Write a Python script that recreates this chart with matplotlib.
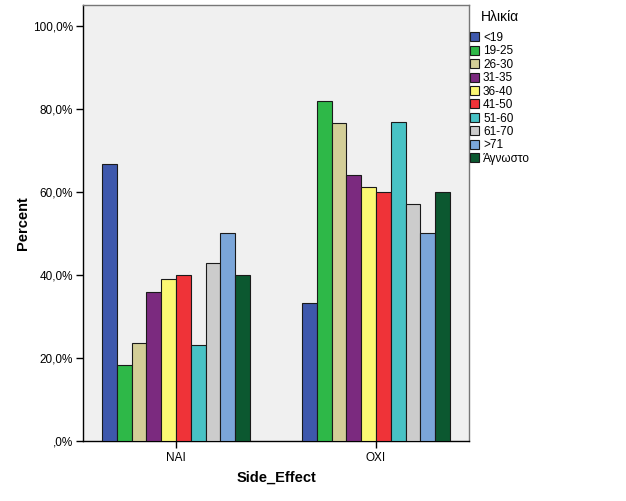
import matplotlib
matplotlib.use("Agg")
import matplotlib.pyplot as plt
import numpy as np
from matplotlib.ticker import FuncFormatter

plt.rcParams['font.family'] = ['Liberation Sans', 'DejaVu Sans']

categories = ["NAI", "OXI"]
age_groups = ["<19", "19-25", "26-30", "31-35", "36-40", "41-50", "51-60", "61-70", ">71", "Άγνωστο"]
nai_values = [66.7, 18.2, 23.5, 36.0, 38.9, 40.0, 23.1, 42.9, 50.0, 40.0]
oxi_values = [33.3, 81.8, 76.5, 64.0, 61.1, 60.0, 76.9, 57.1, 50.0, 60.0]
colors = ["#3E58AC", "#2EB848", "#D3CE97", "#7B2A7F", "#FBF873",
          "#EF3338", "#48C2C5", "#CCCCCC", "#7BA6D9", "#0C5830"]
yticks = [0, 20, 40, 60, 80, 100]

fig = plt.figure(figsize=(6.26, 5.01), dpi=100)
ax = fig.add_axes([83/626, 60/501, 386/626, 436/501])
ax.set_facecolor("#F0F0F0")

n = len(age_groups)
width = 0.074
x = np.arange(len(categories))
for i, (g, c) in enumerate(zip(age_groups, colors)):
    vals = [nai_values[i], oxi_values[i]]
    ax.bar(x + (i - (n - 1) / 2) * width, vals, width, color=c,
           edgecolor="#1a1a1a", linewidth=0.8, label=g, zorder=3)


def fmt(v, p):
    s = ("%.1f%%" % v).replace(".", ",")
    return s[1:] if v == 0 else s


ax.set_xlim(-0.465, 1.465)
ax.set_ylim(0, 105)
ax.set_xticks(x)
ax.set_xticklabels(categories, fontsize=8.5)
ax.set_yticks(yticks)
ax.yaxis.set_major_formatter(FuncFormatter(fmt))
ax.tick_params(axis="y", labelsize=8.5, length=5, width=1, direction="out", pad=2)
ax.tick_params(axis="x", length=5, width=1, direction="out", pad=3)
for s in ["left", "bottom"]:
    ax.spines[s].set_color("black")
    ax.spines[s].set_linewidth(1)
for s in ["top", "right"]:
    ax.spines[s].set_color("#777777")
    ax.spines[s].set_linewidth(1)

ax.set_ylabel("Percent", fontsize=10.5, fontweight="bold", labelpad=2)
ax.set_xlabel("Side_Effect", fontsize=10.5, fontweight="bold", labelpad=5)

fig.text(481/626, 1 - 17/501, "Ηλικία", fontsize=10, ha="left", va="center")
leg = fig.legend(loc="upper left", bbox_to_anchor=(470/626, 1 - 32/501), frameon=False,
                 fontsize=8.5, handlelength=0.8, handleheight=0.8, handletextpad=0.3,
                 labelspacing=0.12, borderaxespad=0, borderpad=0)
for h in leg.legend_handles:
    h.set_linewidth(0.8)

fig.savefig("out.png", dpi=100)
